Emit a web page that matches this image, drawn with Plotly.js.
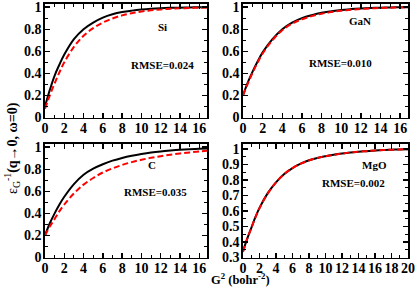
<!DOCTYPE html>
<html><head><meta charset="utf-8">
<script src="https://cdn.plot.ly/plotly-3.0.1.min.js"></script>
<style>html,body{margin:0;padding:0;background:#fff}#chart{width:415px;height:287px}</style>
</head><body><div id="chart"></div>
<script>
// G^2 grid (bohr^-2)
const g17 = [0,0.5,1,1.5,2,3,4,5,6,7,8,9,10,11,12,13,14,15,16,17];
const g20 = [0,0.5,1,1.5,2,3,4,5,6,7,8,9,10,11,12,13,14,15,16,17,18,19,20];

const siExact = [0.10,0.25,0.38,0.48,0.57,0.71,0.80,0.86,0.905,0.935,0.955,0.968,0.978,0.985,0.99,0.993,0.995,0.997,0.998,0.999];
const siModel = [0.08,0.20,0.31,0.41,0.50,0.64,0.74,0.81,0.86,0.897,0.925,0.945,0.96,0.971,0.979,0.985,0.989,0.992,0.994,0.996];

const ganExact = [0.20,0.32,0.42,0.51,0.59,0.71,0.80,0.86,0.90,0.927,0.948,0.962,0.974,0.982,0.988,0.992,0.995,0.997,0.998,0.999];
const ganModel = [0.20,0.31,0.41,0.50,0.58,0.70,0.79,0.85,0.89,0.918,0.94,0.955,0.967,0.976,0.983,0.988,0.992,0.995,0.997,0.998];

const cExact = [0.20,0.31,0.40,0.48,0.55,0.665,0.75,0.805,0.845,0.877,0.902,0.922,0.938,0.951,0.961,0.969,0.976,0.981,0.985,0.988];
const cModel = [0.20,0.28,0.35,0.42,0.48,0.58,0.66,0.72,0.77,0.807,0.838,0.864,0.885,0.903,0.918,0.931,0.942,0.952,0.961,0.968];

const mgoExact = [0.34,0.42,0.49,0.56,0.62,0.715,0.785,0.838,0.877,0.905,0.927,0.942,0.953,0.962,0.97,0.977,0.982,0.986,0.99,0.993,0.995,0.997,0.998];
const mgoModel = [0.335,0.418,0.49,0.558,0.618,0.713,0.784,0.838,0.877,0.905,0.926,0.942,0.953,0.962,0.97,0.977,0.982,0.986,0.99,0.993,0.995,0.997,0.998];

const panelNames = ['Si','GaN','C','MgO'];
const rmseLabels = ['RMSE=0.024','RMSE=0.010','RMSE=0.035','RMSE=0.002'];
const yTitle = 'ε<sub>G</sub><sup>-1</sup><b>(q→0, ω=0)</b>';
const xTitle = '<b>G<sup>2</sup> (bohr<sup>-2</sup>)</b>';

const FONT = 'Liberation Serif';
const sets = [
  [g17, siExact, siModel, 'x', 'y'],
  [g17, ganExact, ganModel, 'x2', 'y2'],
  [g17, cExact, cModel, 'x3', 'y3'],
  [g20, mgoExact, mgoModel, 'x4', 'y4']
];
const traces = [];
sets.forEach(s => {
  traces.push({x: s[0], y: s[1], xaxis: s[3], yaxis: s[4], mode: 'lines', line: {color: '#000', width: 2, shape: 'spline', smoothing: 1}, showlegend: false, hoverinfo: 'skip'});
  traces.push({x: s[0], y: s[2], xaxis: s[3], yaxis: s[4], mode: 'lines', line: {color: '#ff0000', width: 2, dash: '6px,3px', shape: 'spline', smoothing: 1}, showlegend: false, hoverinfo: 'skip'});
});

function ax(domain, range, dtick, minor, anchor, isX) {
  return {
    domain: domain, range: range, dtick: dtick, tick0: 0, anchor: anchor,
    showline: true, linecolor: '#000', linewidth: 1.6, mirror: 'ticks',
    ticks: 'inside', ticklen: 5, tickwidth: 1.3, tickcolor: '#000',
    minor: {ticks: 'inside', ticklen: 3, tickwidth: 1, tickcolor: '#000', dtick: minor},
    showgrid: false, zeroline: false, ticklabeloverflow: 'allow',
    ticklabelstandoff: isX ? -3 : -1,
    tickfont: {family: FONT, size: 14, color: '#000', weight: 'bold'}
  };
}
const xl = [45/415, 207/415], xr = [243/415, 408/415];
const yt = [1-117.5/287, 1-4/287], yb = [1-257.5/287, 1-144/287];

const layout = {
  width: 415, height: 287, margin: {l: 0, r: 0, t: 0, b: 0},
  paper_bgcolor: '#fff', plot_bgcolor: '#fff',
  font: {family: FONT},
  xaxis: ax(xl, [0, 16.8], 2, 1, 'y', true),
  yaxis: ax(yt, [0, 1.028], 0.2, 0.1, 'x', false),
  xaxis2: ax(xr, [0, 16.8], 2, 1, 'y2', true),
  yaxis2: ax(yt, [0, 1.028], 0.2, 0.1, 'x2', false),
  xaxis3: ax(xl, [0, 16.8], 2, 1, 'y3', true),
  yaxis3: ax(yb, [0, 1.028], 0.2, 0.1, 'x3', false),
  xaxis4: ax(xr, [0, 20], 2, 1, 'y4', true),
  yaxis4: ax(yb, [0.3, 1.032], 0.1, 0.05, 'x4', false),
  annotations: []
};
const labelPos = [
  [[162, 27], [162, 65]],
  [[360, 21], [340, 63]],
  [[152, 165], [155, 192]],
  [[374, 165], [353, 183]]
];
labelPos.forEach((p, i) => {
  layout.annotations.push({xref: 'paper', yref: 'paper', x: p[0][0]/415, y: 1-p[0][1]/287, xanchor: 'center', yanchor: 'middle', showarrow: false, text: '<b>' + panelNames[i] + '</b>', font: {family: FONT, size: 11, color: '#000'}});
  layout.annotations.push({xref: 'paper', yref: 'paper', x: p[1][0]/415, y: 1-p[1][1]/287, xanchor: 'center', yanchor: 'middle', showarrow: false, text: '<b>' + rmseLabels[i] + '</b>', font: {family: FONT, size: 11, color: '#000'}});
});
layout.annotations.push({xref: 'paper', yref: 'paper', x: 12/415, y: 1-148/287, xanchor: 'center', yanchor: 'middle', showarrow: false, textangle: -90, text: yTitle, font: {family: FONT, size: 14, color: '#000'}});
layout.annotations.push({xref: 'paper', yref: 'paper', x: 240/415, y: 1-279/287, xanchor: 'center', yanchor: 'middle', showarrow: false, text: xTitle, font: {family: FONT, size: 12.5, color: '#000'}});

Plotly.newPlot('chart', traces, layout, {staticPlot: true, displayModeBar: false});
</script></body></html>
